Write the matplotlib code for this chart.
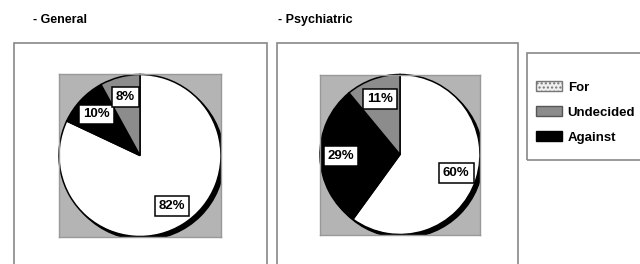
import matplotlib
matplotlib.use("Agg")
import matplotlib.pyplot as plt
from matplotlib.patches import Rectangle, Circle, Patch

plt.rcParams['font.family'] = ['Liberation Sans Narrow', 'Liberation Sans', 'DejaVu Sans']

titles = ["- General", "- Psychiatric"]
categories = ["For", "Undecided", "Against"]
general = [82, 8, 10]
psychiatric = [60, 11, 29]
colors = {"For": "#ffffff", "Undecided": "#8c8c8c", "Against": "#000000"}

W, H = 640, 264
fig = plt.figure(figsize=(W / 100, H / 100), dpi=100)


def fx(px):
    return px / W


def fy(py):
    return 1 - py / H


def panel(box_x0, box_x1, sq_x0, sq_x1, sq_y0, sq_y1, title, title_x, values):
    # outer frame (runs off the bottom of the figure)
    fig.patches.append(Rectangle((fx(box_x0), fy(300)), fx(box_x1 - box_x0), (300 - 43) / H,
                                 transform=fig.transFigure, fill=False,
                                 edgecolor="#888888", lw=1.2))
    fig.text(fx(title_x), fy(20), title, fontsize=9, fontweight="bold", va="center")

    ax = fig.add_axes([fx(sq_x0), fy(sq_y1), fx(sq_x1 - sq_x0), (sq_y1 - sq_y0) / H])
    ax.set_facecolor("#b4b4b4")
    for s in ax.spines.values():
        s.set_edgecolor("#999999")
        s.set_linewidth(1)

    # clockwise from 12 o'clock: For, Against, Undecided
    order = ["For", "Against", "Undecided"]
    vals = [values[categories.index(c)] for c in order]
    ax.add_patch(Circle((0.04, -0.04), 1.0, color="black", zorder=0))
    wedges, texts, autotexts = ax.pie(vals, colors=[colors[c] for c in order],
                                      startangle=90, counterclock=False,
                                      autopct="%d%%", pctdistance=0.74,
                                      wedgeprops=dict(edgecolor="black", linewidth=1.1),
                                      frame=True)
    for t in autotexts:
        t.set_fontsize(9.5)
        t.set_fontweight("bold")
        t.set_bbox(dict(boxstyle="square,pad=0.3", facecolor="white",
                        edgecolor="black", linewidth=1.1))
    ax.set_xlim(-1.0, 1.0)
    ax.set_ylim(-1.0, 1.0)
    ax.set_xticks([])
    ax.set_yticks([])


panel(14, 267, 59, 221, 74, 237, titles[0], 33, general)
panel(277, 518, 320, 480, 74, 235, titles[1], 278, psychiatric)

# legend frame (runs off the right edge)
fig.patches.append(Rectangle((fx(527), fy(160)), fx(200), (160 - 53) / H,
                             transform=fig.transFigure, fill=False,
                             edgecolor="#888888", lw=1.2))
handles = [Patch(facecolor="#f0f0f0", edgecolor="#777777", hatch="....", label="For"),
           Patch(facecolor=colors["Undecided"], edgecolor="#555555", label="Undecided"),
           Patch(facecolor=colors["Against"], edgecolor="black", label="Against")]
fig.legend(handles=handles, loc="upper left", bbox_to_anchor=(fx(536), fy(81)),
           frameon=False, prop=dict(size=9.5, weight="bold"),
           handlelength=2.0, handleheight=0.8, handletextpad=0.4,
           labelspacing=0.95, borderaxespad=0, borderpad=0)

fig.savefig("out.png", dpi=100)
